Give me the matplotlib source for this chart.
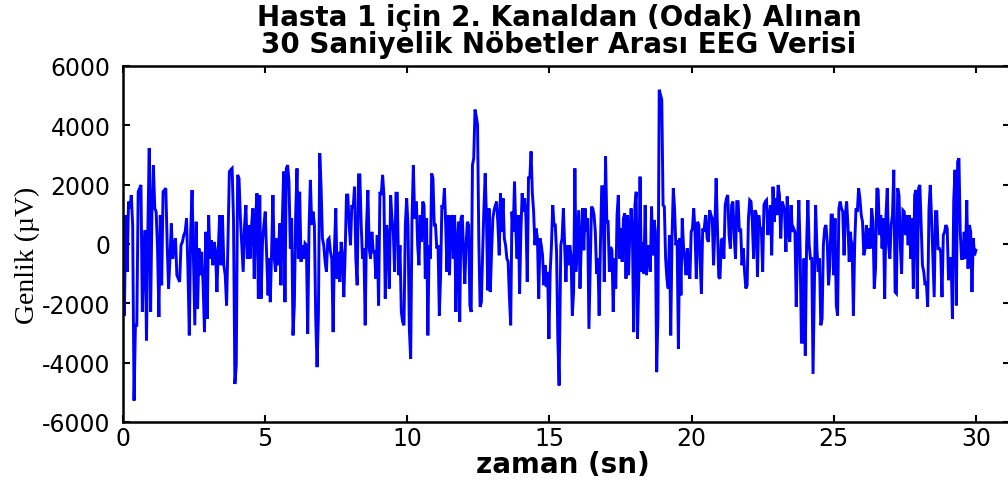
import numpy as np
import matplotlib
matplotlib.use("Agg")
import matplotlib.pyplot as plt

plt.rcParams["axes.unicode_minus"] = False

# ---- data (amplitude in microvolts) ----
seg_spans = [(0.0, 5.15), (5.18, 10.26), (10.32, 15.34),
             (15.40, 20.48), (20.50, 25.59), (25.60, 30.0)]

seg1 = [-940, -2410, 975, -940, 1430, 1200, 1650, 640, -5280, -2740, -2740, 1760, 1880, 1990,
        -2290, -490, 470, -3250, 520, 3230, -2290, 1200, 2660, 1200, 1090, -150, -2460, 975,
        -1390, 1760, 1820, 1880, -40, -1500, -490, 690, -490, -40, 190, -1050, -1170, -1280,
        -40, 70, 300, 410, 860, -830, -3080, 410, 1820, -490, -2740, 750, -2180, -150, -1050,
        -265, -1390, -2970, 410, -2520, 975, -490, 130, -715, 70, -265, -1620, -150, 975, -715,
        975, -715, -1050, -2070, 70, 2440, 2500, 2550, 860, -4720, -4100, 2330, 2210, 860, -40,
        -940, 640, 1310, -490, 640, -490, 580, 1200, -1170, 860, 1710, -1840, 1650, -1840, 70,
        640, 1090, -380, -1730, -490]
seg2 = [-1960, -265, 1650, -490, -940, 190, -715, 690, -1390, 750, 2440, -1960, 2550, 2660,
        2100, -150, 860, -3080, -2070, 975, 2550, -490, 1760, -600, -40, -490, 20, -40, -3030,
        520, 2160, 640, 1090, 640, -2520, -4150, -2410, 3060, 1930, 190, -40, -600, -940, 130,
        190, -265, -490, -2970, -150, 1200, -1170, -265, -1280, 70, -380, -1790, -320, 1650,
        1650, 640, -40, 1310, 1200, 1930, -490, -1390, 2330, 2330, 640, -490, -150, -2740, 640,
        1820, -150, -490, 410, -265, -265, -1170, 300, -2070, 1760, 1650, 2330, 1650, -1840,
        640, 190, -1500, 1650, 860, 410, -940, 1710, 1710, -1050, -40, -2290, -2630, -2740, 640,
        1540, 640, -2860, -3870, 860, 2660, 860]
seg3 = [1430, -40, -715, 975, 70, 1430, 1310, -1170, 860, -3080, -40, -490, 2380, 2210, 640,
        640, -150, -40, -2410, -1050, 1310, 1200, 1880, 640, -940, 975, -1050, 750, 975, -490,
        975, -2290, -40, 750, -2630, 860, 975, -265, -1340, -40, 750, 640, -2070, -2290, 2660,
        2890, 4530, 4300, 4020, 70, -2120, -1960, -265, 1200, 2380, 860, -1560, 1200, -1620,
        -265, 860, 1140, 1310, 1430, 640, -380, 1710, 410, 1540, 190, -40, -490, -600, -1790,
        -2740, 1090, 410, 2100, 520, -490, 975, -1670, 410, 1710, 1090, 1540, 860, -1280, 2270,
        2210, 3120, 1710, 1090, -40, 520, 190, -1840, 190, -40, -380, -1390, -715, -1450, -940,
        -3200, -940, -40, 1310, 640, 640, -265, -3200, -4770]
seg4 = [-40, 190, 1200, -40, -1280, -40, -715, -40, -380, -2410, -1620, 2550, -940, 130, 1140,
        -1500, -40, 1200, -210, 1200, 410, 860, -2860, -715, 1260, 1200, 975, 410, -1000, -490,
        -2410, -40, 1930, 1930, -1280, 2950, 750, 750, -940, -100, -210, -2290, -490, -1500,
        975, 1650, -490, 520, -600, 860, 1030, -1170, 975, -1050, 410, 1200, 410, -2970, 1310,
        1760, -3200, -1170, 2270, -940, 70, -1000, 1310, -1050, -380, -40, -940, 1260, -380,
        810, 410, -4320, -2410, 5200, 5030, 4860, 1310, 1260, -490, -1170, -1500, 300, -3080,
        190, 1880, 1200, -40, 130, -3530, 190, -1730, 860, -100, -490, -1050, -150, -940, -1170,
        410, 520, 1200, 410, -1170, 750, 640, -600, -1670, 520, 410, 860]
seg5 = [975, 190, 70, 1140, 975, 860, -715, 520, 2210, 520, -1110, -1170, 130, 190, -490, 1310,
        1540, 1650, 300, -150, 1310, 1430, 190, -490, 1430, 1430, 410, 520, -715, -150, -940,
        -1500, -1390, 860, 1480, 1430, 750, -490, 1140, 1030, -1110, 975, 520, 520, -940, 1310,
        1430, 1480, 300, 860, 1310, -380, 1930, 750, 1540, 975, 1990, 1650, 190, 1430, 1310,
        1090, -265, 1600, 410, 70, 1310, 410, 520, 410, -2120, -40, 1480, -150, -3310, -3310,
        -490, -3760, -40, 1480, -40, -490, -490, -4380, -1620, 1310, -150, -940, -490, -2740,
        -2520, -40, 520, 640, 70, -1390, -715, 975, 975, -1050, 860, -2070, -2410, 1200, 1430,
        1200, 1090, -380, 975, 1430, 640, -600, 410]
seg6 = [190, -40, -2410, 20, 1200, 1090, 1880, 1540, 975, 750, -380, -150, 640, -150, 520,
        -150, 1200, 750, -1500, -830, 1880, 1820, 300, 975, -150, 860, -1840, 975, 1880, -40,
        -490, 640, 975, 2500, -1620, -1670, 1880, 1650, -40, -1000, 1140, 1090, 300, 975, -40,
        975, -490, 860, -1500, 1650, 1820, -1840, 1880, 1990, 580, -715, -940, -1390, -1280,
        -2120, 1200, 1990, 860, -490, -1790, 1090, 1090, -150, -150, -265, -1790, 300, 410, 640,
        520, -1220, -490, -490, -2520, 1480, 2500, -2070, 2780, 2890, 410, -490, -490, 410,
        -490, 1480, -830, 640, 410, -1620, 190, -380, -210]

segments = [seg1, seg2, seg3, seg4, seg5, seg6]

title_text = "Hasta 1 için 2. Kanaldan (Odak) Alınan\n30 Saniyelik Nöbetler Arası EEG Verisi"
xlabel_text = "zaman (sn)"
ylabel_text = "Genlik (µV)"
xticks = [0, 5, 10, 15, 20, 25, 30]
yticks = [-6000, -4000, -2000, 0, 2000, 4000, 6000]

# ---- assemble series ----
t_parts, v_parts = [], []
for (t0, t1), vals in zip(seg_spans, segments):
    t_parts.append(np.linspace(t0, t1, len(vals)))
    v_parts.append(np.asarray(vals, dtype=float))
t = np.concatenate(t_parts)
v = np.concatenate(v_parts)

# ---- figure ----
W, H = 1008, 489
fig = plt.figure(figsize=(W / 100, H / 100), dpi=100)
ax = fig.add_axes([123 / W, 66 / H, 887 / W, 356 / H])
ax.plot(t, v, color="#0000ff", lw=2.1, solid_joinstyle="miter")

ax.set_xlim(0, 31.2)
ax.set_ylim(-6000, 6000)
ax.set_xticks(xticks)
ax.set_yticks(yticks)
for s in ax.spines.values():
    s.set_linewidth(1.8)
ax.tick_params(direction="in", top=True, right=True, length=5, width=1.5,
               labelsize=17, colors="black")
ax.tick_params(axis="y", pad=9)
ax.tick_params(axis="x", pad=3)
for lab in ax.get_xticklabels() + ax.get_yticklabels():
    lab.set_family("DejaVu Sans")

ax.set_xlabel(xlabel_text, fontsize=20, fontweight="bold", family="DejaVu Sans")
ax.xaxis.set_label_coords((563 - 123) / 887, -0.08)
ax.set_ylabel(ylabel_text, fontsize=20, family="Liberation Serif")
ax.yaxis.set_label_coords((40 - 123) / 887, 0.47)

fig.text(559 / W, 1 - 4 / H, title_text, ha="center", va="top", fontsize=20,
         fontweight="bold", family="DejaVu Sans", linespacing=0.94)

fig.savefig("out.png", dpi=100)
